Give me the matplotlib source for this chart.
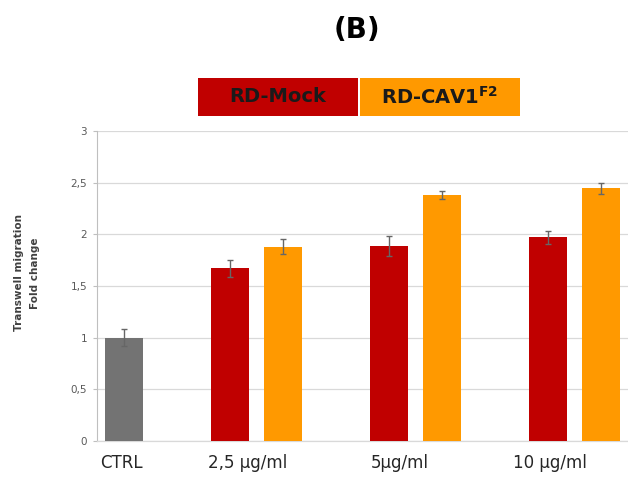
import matplotlib
matplotlib.use("Agg")
import matplotlib.pyplot as plt
from matplotlib.patches import Rectangle

# ---- data ----
categories = ["CTRL", "2,5 µg/ml", "5µg/ml", "10 µg/ml"]
ctrl_value = 1.00
ctrl_err = 0.085
mock_values = [1.67, 1.89, 1.97]
mock_err = [0.08, 0.095, 0.065]
cav_values = [1.88, 2.38, 2.445]
cav_err = [0.075, 0.04, 0.055]
series_names = ["RD-Mock", r"RD-CAV1$^{\mathbf{F2}}$"]
yticks = [0, 0.5, 1, 1.5, 2, 2.5, 3]
ytick_labels = ["0", "0,5", "1", "1,5", "2", "2,5", "3"]

RED = "#C00000"
ORANGE = "#FF9900"
GRAY = "#737373"
ERR = "#666666"

fig = plt.figure(figsize=(6.28, 4.8), dpi=100)
ax = fig.add_axes([97 / 628, 39 / 480, 1 - 97 / 628, (441 - 131) / 480])

w = 0.239
off = 0.167
groups = [1, 2, 3]
ekw = dict(ecolor=ERR, elinewidth=1.0, capsize=2.5, capthick=1.0)

ax.bar([off], [ctrl_value], w, color=GRAY, yerr=[ctrl_err], error_kw=ekw, zorder=3)
ax.bar([g - off for g in groups], mock_values, w, color=RED, yerr=mock_err, error_kw=ekw, zorder=3)
ax.bar([g + off for g in groups], cav_values, w, color=ORANGE, yerr=cav_err, error_kw=ekw, zorder=3)

ax.set_ylim(0, 3)
ax.set_xlim(0, 3.336)
ax.set_yticks(yticks)
ax.set_yticklabels(ytick_labels, fontsize=7.5, color="#595959")
ax.yaxis.grid(True, color="#D9D9D9", linewidth=0.9, zorder=0)
ax.set_axisbelow(True)
ax.tick_params(axis="y", length=3, color="#BFBFBF", width=0.8, pad=4)

label_pos = [0.154, 0.947, 1.90, 2.846]
ax.set_xticks(label_pos)
ax.set_xticklabels(categories, fontsize=12, color="#262626")
ax.tick_params(axis="x", length=0, pad=9)

for s in ["top", "right"]:
    ax.spines[s].set_visible(False)
ax.spines["left"].set_color("#BFBFBF")
ax.spines["left"].set_linewidth(0.8)
ax.spines["bottom"].set_color("#D9D9D9")
ax.spines["bottom"].set_linewidth(0.9)

ax.set_ylabel("Transwell migration\nFold change", fontsize=7.5, fontweight="bold",
              color="#404040", labelpad=22, linespacing=1.75, y=0.542)

# Title
fig.text(357 / 628, 1 - 30 / 480, "(B)", ha="center", va="center",
         fontsize=20, fontweight="bold", color="black")

# Legend boxes
box_y0 = 1 - 116 / 480
box_h = 38 / 480
fig.add_artist(Rectangle((198 / 628, box_y0), 160 / 628, box_h, transform=fig.transFigure,
                         facecolor=RED, edgecolor="none"))
fig.add_artist(Rectangle((360 / 628, box_y0), 160 / 628, box_h, transform=fig.transFigure,
                         facecolor=ORANGE, edgecolor="none"))
fig.text(278 / 628, box_y0 + box_h / 2, series_names[0], ha="center", va="center",
         fontsize=14, fontweight="bold", color="#1a1a1a")
fig.text(440 / 628, box_y0 + box_h / 2, series_names[1], ha="center", va="center",
         fontsize=14, fontweight="bold", color="#1a1a1a")

fig.savefig("out.png", dpi=100)
